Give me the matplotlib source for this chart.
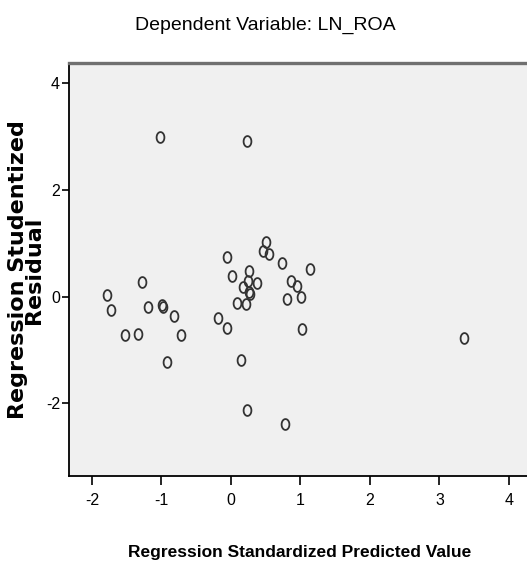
import numpy as np
import matplotlib
matplotlib.use("Agg")
import matplotlib.pyplot as plt
from matplotlib.path import Path

# Data (standardized predicted value, studentized residual)
pred = [-1.02, 0.235, -1.79, -1.73, -1.28, -1.19, -0.99, -0.98, -0.82, -1.53,
        -1.34, -0.72, -0.18, -0.05, -0.05, 0.01, 0.086, 0.18, 0.21, 0.24,
        0.26, 0.26, 0.28, 0.37, 0.465, 0.51, 0.55, 0.74, 0.81, 0.87,
        0.945, 1.01, 1.14, 1.02, 3.35, -0.92, 0.15, 0.235, 0.78]
resid = [3.00, 2.92, 0.03, -0.25, 0.28, -0.20, -0.16, -0.20, -0.36, -0.71,
         -0.70, -0.72, -0.40, -0.58, 0.74, 0.38, -0.11, 0.18, -0.14, 0.29,
         0.49, 0.09, 0.05, 0.25, 0.86, 1.02, 0.80, 0.64, -0.05, 0.30,
         0.21, 0.00, 0.52, -0.60, -0.78, -1.22, -1.19, -2.13, -2.39]
xticks = [-2, -1, 0, 1, 2, 3, 4]
yticks = [-2, 0, 2, 4]

W, H = 527, 567
fig = plt.figure(figsize=(W / 100, H / 100), dpi=100)
fig.patch.set_facecolor("white")

narrow = ["Liberation Sans Narrow", "Liberation Sans", "DejaVu Sans"]

ax = fig.add_axes([69 / W, (H - 476) / H, (W - 69) / W, (476 - 63) / H])
ax.set_facecolor("#f0f0f0")

# elliptical open circle marker (taller than wide, as in reference)
t = np.linspace(0, 2 * np.pi, 60)
ell = Path(np.column_stack([0.72 * np.cos(t), np.sin(t)]), closed=True)

ax.plot(pred, resid, linestyle="none", marker=ell, markersize=7.8,
        markerfacecolor="none", markeredgecolor="#333333", markeredgewidth=1.3)

ax.set_xlim(-2.33, 4.26)
ax.set_ylim(-3.36, 4.38)
ax.set_xticks(xticks)
ax.set_yticks(yticks)
ax.set_xticklabels([str(v) for v in xticks], family=narrow, fontsize=11.5)
ax.set_yticklabels([str(v) for v in yticks], family=narrow, fontsize=11.5)
ax.tick_params(axis="x", direction="out", length=6.5, width=1.2, pad=6, colors="black")
ax.tick_params(axis="y", direction="out", length=5.4, width=1.2, pad=1, colors="black")

for s in ["left", "bottom"]:
    ax.spines[s].set_color("black")
    ax.spines[s].set_linewidth(1.3)
ax.spines["right"].set_visible(False)
ax.spines["top"].set_color("#707070")
ax.spines["top"].set_linewidth(2.4)

fig.text(265 / W, 1 - 30 / H, "Dependent Variable: LN_ROA", ha="center",
         va="baseline", family=narrow, fontsize=14)
fig.text(300 / W, 1 - 557 / H, "Regression Standardized Predicted Value",
         ha="center", va="baseline", family=narrow, fontsize=12.5, fontweight="bold")
fig.text(26 / W, 1 - 270 / H, "Regression Studentized\nResidual", rotation=90,
         ha="center", va="center", multialignment="center", linespacing=0.78,
         family=["DejaVu Sans"], fontsize=16, fontweight="bold")

fig.savefig("out.png", dpi=100, facecolor="white")
